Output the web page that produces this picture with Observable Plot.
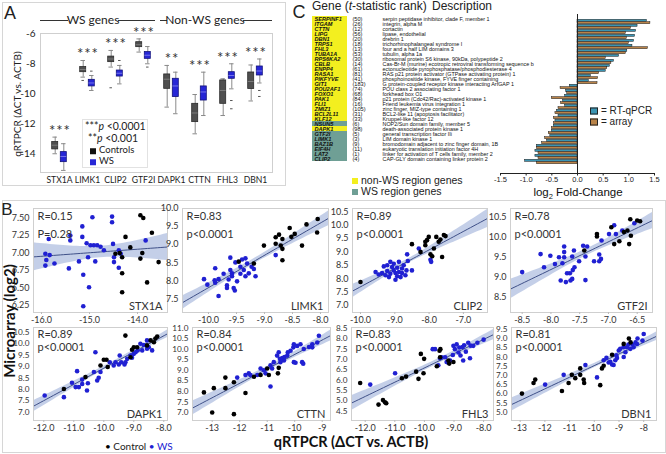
<!DOCTYPE html>
<html><head><meta charset="utf-8">
<script src="https://cdn.jsdelivr.net/npm/d3@7"></script>
<script src="https://cdn.jsdelivr.net/npm/@observablehq/plot@0.6"></script>
<style>
html,body{margin:0;padding:0;background:#fff;}
#fig{position:relative;width:666px;height:454px;overflow:hidden;background:#fff;font-family:Lato,"Open Sans",sans-serif;color:#222;}
#fig svg{position:absolute;}
.t{position:absolute;white-space:nowrap;line-height:1;}
.box{position:absolute;border:1px solid #d6d6d6;}
.sq{display:inline-block;width:6px;height:6px;margin-right:3px;vertical-align:middle;}
</style></head><body><div id="fig"></div>
<script>
// ================= DATA =================
// Panel A: box plot summaries (qRTPCR dCT vs ACTB)
const boxGenes = ["STX1A","LIMK1","CLIP2","GTF2I","DAPK1","CTTN","FHL3","DBN1"];
const ctlLow  = [-14.02, -8.91, -8.24, -7.24, -10.91, -12.69, -11.47, -10.50];
const ctlQ1   = [-13.73, -8.58, -7.91, -6.91,  -9.69, -11.91, -10.69,  -9.70];
const ctlMed  = [-13.45, -8.40, -7.70, -6.75,  -9.05, -11.30,  -9.80,  -9.20];
const ctlQ3   = [-13.24, -8.24, -7.54, -6.58,  -8.73, -10.69,  -9.13,  -8.60];
const ctlHigh = [-12.91, -7.80, -7.13, -6.36,  -8.13, -10.07,  -9.02,  -8.10];
const wsLow   = [-15.13, -9.80, -9.36, -8.02, -11.35, -11.47,  -9.69,  -9.30];
const wsQ1    = [-14.58, -9.53, -8.87, -7.69, -10.24, -10.47,  -9.02,  -8.80];
const wsMed   = [-14.20, -9.30, -8.65, -7.45,  -9.50,  -9.90,  -8.80,  -8.50];
const wsQ3    = [-13.91, -9.09, -8.47, -7.24,  -9.02,  -9.53,  -8.58,  -8.20];
const wsHigh  = [-13.35, -8.80, -8.13, -6.87,  -8.58,  -8.58,  -8.02,  -7.70];
const signif  = ["***","***","***","***","**","***","***","***"];
const ctlOutGene = ["LIMK1","CLIP2"];
const ctlOutVal  = [-9.13, -9.62];
const wsOutGene  = ["LIMK1","CLIP2","GTF2I","FHL3","FHL3","DBN1","DBN1"];
const wsOutVal   = [-8.51, -7.80, -8.24, -10.47, -11.02, -9.80, -10.20];
const yTicksA = [-6, -8, -10, -12, -14];

// Panel B: scatter points [qRTPCR, microarray]
const stx1aCtl = [[-14.25,7.23],[-13.70,7.29],[-13.94,7.54],[-13.88,7.50],[-14.46,6.99],[-14.37,7.00],[-14.32,6.94],[-14.15,7.08],[-14.32,6.71],[-14.32,6.44],[-13.90,7.00],[-13.94,6.92],[-13.80,6.58],[-13.56,6.87]];
const stx1aWs = [[-15.85,7.20],[-15.40,7.25],[-15.40,7.18],[-15.15,7.23],[-15.06,7.14],[-14.98,7.11],[-14.91,7.11],[-14.84,7.11],[-14.77,7.09],[-14.51,7.13],[-13.83,7.18],[-15.92,6.99],[-15.83,6.97],[-15.92,6.82],[-15.90,6.90],[-15.73,6.85],[-15.43,6.78],[-15.22,6.88],[-15.13,6.69],[-15.03,6.94],[-15.01,6.51],[-15.13,6.24],[-14.88,6.88],[-14.70,7.04],[-14.49,6.94],[-14.49,6.87],[-14.39,7.04],[-14.39,6.79],[-14.35,6.99],[-14.94,7.51],[-14.53,7.52],[-14.53,7.44],[-15.15,7.38]];
const limk1Ctl = [[-9.01,8.97],[-8.80,9.20],[-8.74,9.27],[-8.68,9.15],[-8.80,9.02],[-8.71,8.97],[-8.68,8.88],[-8.52,9.21],[-8.46,9.29],[-8.33,8.97],[-8.06,9.33],[-8.68,8.57],[-9.19,8.48],[-9.46,8.53],[-8.55,9.45],[-8.25,9.55],[-8.05,9.70]];
const limk1Ws = [[-10.08,8.05],[-10.02,7.90],[-9.88,7.95],[-9.89,8.02],[-9.82,8.05],[-9.88,8.35],[-9.82,7.59],[-9.67,7.88],[-9.67,7.81],[-9.61,8.64],[-9.61,8.30],[-9.58,8.21],[-9.58,8.13],[-9.55,7.81],[-9.53,7.74],[-9.52,8.51],[-9.43,8.39],[-9.43,8.20],[-9.49,7.99],[-9.40,8.59],[-9.34,8.62],[-9.37,8.30],[-9.34,8.13],[-9.31,8.48],[-9.28,8.21],[-9.23,8.39],[-9.19,8.33],[-9.73,8.20],[-8.80,8.71],[-9.64,8.04],[-9.16,8.13]];
const clip2Ctl = [[-10.00,7.88],[-8.50,9.29],[-8.11,9.38],[-8.11,9.25],[-8.06,9.44],[-8.01,9.56],[-8.25,9.00],[-7.86,9.13],[-7.96,8.91],[-7.79,9.56],[-7.72,9.38],[-7.67,9.46],[-7.57,9.63],[-7.52,9.59],[-7.62,8.81],[-7.91,8.84]];
const clip2Ws = [[-9.56,8.25],[-9.47,8.16],[-9.37,8.21],[-9.32,8.46],[-9.27,8.13],[-9.22,8.29],[-9.17,8.06],[-9.13,8.19],[-9.08,8.44],[-9.03,8.56],[-9.03,8.31],[-8.98,8.21],[-8.93,8.41],[-8.93,8.09],[-8.88,8.63],[-8.88,8.25],[-8.83,8.06],[-8.79,8.38],[-8.79,8.21],[-8.74,8.50],[-8.66,8.31],[-8.64,8.91],[-8.62,8.66],[-8.50,8.31],[-8.69,8.13],[-9.13,8.63],[-9.22,8.50],[-8.98,7.96],[-8.30,9.13],[-7.96,8.71],[-7.94,8.63]];
const gtf2iCtl = [[-7.42,9.67],[-7.20,10.08],[-7.20,10.02],[-6.90,9.83],[-6.81,9.90],[-6.67,10.17],[-6.61,10.04],[-6.64,9.83],[-6.73,10.13],[-6.50,10.42],[-6.62,10.45],[-6.45,10.40],[-6.95,10.25]];
const gtf2iWs = [[-8.50,9.13],[-8.18,9.58],[-8.12,9.25],[-8.01,9.54],[-7.93,9.33],[-7.86,9.50],[-7.80,9.35],[-7.77,9.77],[-7.77,9.63],[-7.77,9.50],[-7.83,8.92],[-7.74,8.88],[-7.72,9.10],[-7.67,9.10],[-7.66,8.92],[-7.63,8.96],[-7.62,9.18],[-7.59,9.25],[-7.60,9.67],[-7.63,9.52],[-7.51,9.40],[-7.44,9.79],[-7.37,9.77],[-7.40,9.52],[-7.40,8.93],[-7.25,9.40],[-7.16,9.40],[-7.16,9.57],[-7.13,9.46],[-7.12,9.92],[-6.99,10.08],[-6.87,10.08],[-6.76,10.17],[-6.90,10.30],[-6.55,10.35]];
const dapk1Ctl = [[-11.33,8.02],[-10.61,8.54],[-10.11,9.05],[-10.00,9.30],[-9.91,9.30],[-9.87,8.98],[-9.06,9.74],[-9.00,9.85],[-9.11,9.41],[-8.89,9.85],[-8.56,9.93],[-8.44,10.15],[-8.33,10.07],[-9.28,10.36],[-8.28,10.23],[-8.22,10.32]];
const dapk1Ws = [[-11.97,7.73],[-11.33,7.66],[-11.06,8.29],[-10.89,8.80],[-10.94,8.10],[-10.83,8.10],[-10.72,8.24],[-10.72,8.43],[-10.56,7.95],[-10.53,8.27],[-10.33,8.76],[-10.28,9.63],[-10.22,8.39],[-10.17,8.51],[-10.11,8.76],[-9.80,9.19],[-9.67,9.05],[-9.61,9.19],[-9.50,9.09],[-9.47,9.49],[-9.42,9.19],[-9.31,9.09],[-9.28,9.19],[-9.22,9.34],[-9.11,9.49],[-9.06,9.39],[-9.00,9.56],[-8.94,9.63],[-8.87,9.71],[-8.78,10.00],[-8.72,9.71],[-8.56,10.15],[-8.39,9.71],[-8.56,9.78],[-8.67,9.95],[-8.50,9.85]];
const cttnCtl = [[-13.30,7.95],[-12.94,8.15],[-13.00,7.00],[-12.52,8.15],[-12.52,8.65],[-12.21,8.43],[-12.21,6.92],[-11.79,7.92],[-11.48,8.69],[-11.24,8.77],[-11.00,9.08],[-10.58,9.11],[-10.61,8.85],[-10.94,8.77]];
const cttnWs = [[-12.09,8.65],[-11.79,8.77],[-11.67,8.85],[-11.61,8.77],[-11.36,8.77],[-11.24,9.08],[-11.12,9.00],[-11.06,8.85],[-10.88,9.23],[-10.82,9.08],[-10.76,9.38],[-10.64,9.69],[-10.58,9.85],[-10.54,9.54],[-10.52,9.38],[-10.45,9.57],[-10.39,9.46],[-10.37,9.62],[-10.27,9.69],[-10.25,9.85],[-10.15,9.92],[-10.05,10.08],[-10.88,8.23],[-10.03,9.38],[-9.97,9.35],[-9.91,10.15],[-9.79,10.23],[-9.67,10.00],[-9.36,10.08],[-9.73,9.38],[-9.69,9.31],[-9.18,10.31],[-9.12,10.63],[-10.03,10.23],[-9.48,10.10],[-9.36,10.23]];
const fhl3Ctl = [[-12.17,5.86],[-11.55,4.81],[-11.40,5.03],[-11.33,4.92],[-11.29,4.88],[-10.76,6.09],[-10.62,6.17],[-10.28,6.41],[-10.20,6.06],[-10.12,7.27],[-10.01,7.03],[-10.03,6.33],[-9.58,6.67],[-9.49,7.42],[-9.47,7.11],[-9.19,6.95],[-9.16,6.80],[-9.02,6.88],[-9.46,7.50]];
const fhl3Ws = [[-11.83,5.78],[-10.99,6.33],[-9.72,7.50],[-9.64,7.50],[-9.53,6.72],[-9.47,7.06],[-9.42,7.11],[-9.30,7.11],[-9.25,6.88],[-9.19,6.84],[-9.13,6.95],[-9.04,7.22],[-9.02,7.66],[-8.97,7.50],[-8.91,7.73],[-8.85,7.34],[-8.82,7.58],[-8.78,7.19],[-8.69,6.95],[-8.66,7.69],[-8.60,7.38],[-8.52,7.81],[-8.46,7.06],[-8.35,7.66],[-8.44,7.67],[-8.21,7.81],[-8.00,7.96],[-8.71,7.60]];
const dbn1Ctl = [[-12.93,6.01],[-12.46,6.59],[-12.39,6.77],[-11.31,6.15],[-11.04,6.59],[-10.91,7.03],[-10.77,6.85],[-10.57,7.38],[-10.57,7.03],[-10.43,6.77],[-10.41,6.59],[-9.76,6.47],[-9.69,7.38],[-9.62,7.52],[-9.28,8.12],[-8.81,8.71],[-8.53,8.79],[-8.60,9.00]];
const dbn1Ws = [[-11.99,6.50],[-11.24,7.03],[-10.36,7.56],[-9.89,6.89],[-9.62,7.82],[-9.51,7.95],[-9.42,7.70],[-9.35,7.74],[-9.28,7.59],[-9.22,7.56],[-9.15,7.82],[-9.11,8.09],[-9.08,7.95],[-9.01,8.35],[-8.95,8.44],[-8.81,8.00],[-8.74,8.26],[-8.68,8.53],[-8.54,8.44],[-8.41,8.53],[-8.27,8.70],[-8.00,9.25],[-8.25,9.00],[-8.05,8.89],[-8.33,8.79],[-8.45,8.68],[-8.62,8.68],[-8.82,8.53]];
const scatterGenes = ["STX1A","LIMK1","CLIP2","GTF2I","DAPK1","CTTN","FHL3","DBN1"];
const scatterCtl = [stx1aCtl, limk1Ctl, clip2Ctl, gtf2iCtl, dapk1Ctl, cttnCtl, fhl3Ctl, dbn1Ctl];
const scatterWs  = [stx1aWs, limk1Ws, clip2Ws, gtf2iWs, dapk1Ws, cttnWs, fhl3Ws, dbn1Ws];
const corrR = ["R=0.15","R=0.83","R=0.89","R=0.78","R=0.89","R=0.84","R=0.83","R=0.81"];
const corrP = ["P=0.28","p<0.0001","p<0.0001","p<0.0001","p<0.0001","p<0.0001","p<0.0001","p<0.0001"];
const xTicksB = [[-16,-15,-14],[-10,-9.5,-9,-8.5,-8],[-10,-9,-8,-7],[-8.5,-8,-7.5,-7,-6.5],[-12,-11,-10,-9,-8],[-13,-12,-11,-10,-9],[-12,-11,-10,-9,-8],[-13,-12,-11,-10,-9,-8]];
const xDecB = [1,1,1,1,1,0,1,0];
const yTicksB = [[6.25,6.5,6.75,7,7.25,7.5],[7.5,8,8.5,9,9.5,10],[7,7.5,8,8.5,9,9.5,10,10.5],[8.5,9,9.5,10,10.5],[7,7.5,8,8.5,9,9.5,10,10.5],[7,7.5,8,8.5,9,9.5,10,10.5,11],[4.5,5,5.5,6,6.5,7,7.5,8,8.5],[5,5.5,6,6.5,7,7.5,8,8.5,9,9.5]];
const yDecB = [2,1,1,1,1,1,1,1];

// Panel C: genes ranked by t-statistic, and log2 fold changes
const cGenes = ["SERPINF1","ITGAM","CTTN","LIPG","DBN1","TRPS1","FHL3","TUBA1A","RPS6KA2","CBLB","ENPP4","RASA1","PIKFYVE","GIT1","POU2AF1","FOXO1","PAK1","FLI1","ZMIZ1","BCL2L11","KLF12","NSUN5","DAPK1","GTF2I","LIMK1","BAZ1B","EIF4H","LAT2","CLIP2"];
const cRanks = [50,26,12,56,20,18,13,53,30,14,61,81,41,183,74,68,84,16,105,31,33,6,98,5,3,9,11,1,4];
const cDesc = ["serpin peptidase inhibitor, clade F, member 1","integrin, alpha M","cortactin","lipase, endothelial","drebrin 1","trichorhinophalangeal syndrome I","four and a half LIM domains 3","tubulin, alpha 1a","ribosomal protein S6 kinase, 90kDa, polypeptide 2","Cas-Br-M (murine) ecotropic retroviral transforming sequence b","ectonucleotide pyrophosphatase/phosphodiesterase 4","RAS p21 protein activator (GTPase activating protein) 1","phosphoinositide kinase, FYVE finger containing","G protein-coupled receptor kinase interacting ArfGAP 1","POU class 2 associating factor 1","forkhead box O1","p21 protein (Cdc42/Rac)-activated kinase 1","Friend leukemia virus integration 1","zinc finger, MIZ-type containing 1","BCL2-like 11 (apoptosis facilitator)","Kruppel-like factor 12","NOP2/Sun domain family, member 5","death-associated protein kinase 1","general transcription factor IIi","LIM domain kinase 1","bromodomain adjacent to zinc finger domain, 1B","eukaryotic translation initiation factor 4H","linker for activation of T cells family, member 2","CAP-GLY domain containing linker protein 2"];
const cRegion = ["non-WS","non-WS","non-WS","non-WS","non-WS","non-WS","non-WS","non-WS","non-WS","non-WS","non-WS","non-WS","non-WS","non-WS","non-WS","non-WS","non-WS","non-WS","non-WS","non-WS","non-WS","WS","non-WS","WS","WS","WS","WS","WS","WS"];
const qpcrFC  = [1.35,1.17,1.14,1.12,1.10,1.07,0.97,0.81,0.71,0.63,0.55,0.26,0.22,-0.15,-0.22,-0.24,-0.28,-0.24,-0.40,-0.37,-0.43,-0.46,-0.50,-0.53,-0.59,-0.79,-0.82,-0.82,-1.02];
const arrayFC = [1.42,1.04,0.94,0.96,1.00,1.37,0.94,0.55,0.66,0.58,0.42,0.40,0.39,-0.33,-0.20,-0.50,-0.32,-0.37,-0.43,-0.46,-0.46,-0.50,-0.56,-0.63,-0.69,-0.79,-0.76,-0.76,-0.79];
const fcTicks = [-1.5,-1.0,-0.5,0,0.5,1.0,1.5];

// ================= HELPERS =================
const fig = document.getElementById("fig");
const fmt = dec => d => (d < 0 ? "-" : "") + Math.abs(d).toFixed(dec);
function put(el, left, top) { el.style.position = "absolute"; el.style.left = left + "px"; el.style.top = top + "px"; fig.appendChild(el); return el; }
function txt(html, x, y, css = "", ax = 0.5, rot = 0) {
  const d = document.createElement("div");
  d.className = "t";
  d.innerHTML = html;
  d.style.cssText += `left:${x}px;top:${y}px;transform:translate(${-ax * 100}%,-50%)${rot ? ` rotate(${rot}deg)` : ""};` + css;
  fig.appendChild(d);
  return d;
}
function box(l, t, w, h, css = "") {
  const d = document.createElement("div");
  d.className = "box";
  d.style.cssText += `left:${l}px;top:${t}px;width:${w}px;height:${h}px;` + css;
  fig.appendChild(d);
}
const baseStyle = {background: "transparent", overflow: "visible"};
const ctlFill = "#4f4f4f", wsFill = "#2626d6";

// panel borders
box(2, 2, 282, 182);
box(2, 200, 662, 251);

// ================= PANEL A =================
const rowsOf = (lo, q1, md, q3, hi) => boxGenes.map((g, i) => ({gene: g, lo: lo[i], q1: q1[i], med: md[i], q3: q3[i], hi: hi[i]}));
const ctlRows = rowsOf(ctlLow, ctlQ1, ctlMed, ctlQ3, ctlHigh);
const wsRows = rowsOf(wsLow, wsQ1, wsMed, wsQ3, wsHigh);
const starRows = boxGenes.map((g, i) => ({gene: g, top: Math.max(ctlHigh[i], wsHigh[i]), sig: signif[i].split("").join("\u200a")}));
const bwA = 28.5, off = 4.3;
const boxIn = (bwA - 6.5) / 2, capIn = (bwA - 5) / 2, outIn = (bwA - 3) / 2;
function boxMarks(rows, dx, fill, stroke, med) {
  return [
    Plot.ruleX(rows, {x: "gene", y1: "lo", y2: "hi", dx, stroke: "#8a8a8a"}),
    Plot.tickY(rows, {x: "gene", y: "lo", dx, insetLeft: capIn, insetRight: capIn, stroke: "#8a8a8a"}),
    Plot.tickY(rows, {x: "gene", y: "hi", dx, insetLeft: capIn, insetRight: capIn, stroke: "#8a8a8a"}),
    Plot.barY(rows, {x: "gene", y1: "q1", y2: "q3", dx, insetLeft: boxIn, insetRight: boxIn, fill, stroke, strokeWidth: 0.8}),
    Plot.tickY(rows, {x: "gene", y: "med", dx, insetLeft: boxIn, insetRight: boxIn, stroke: med, strokeWidth: 0.8})
  ];
}
const ctlOut = ctlOutGene.map((g, i) => ({gene: g, v: ctlOutVal[i]}));
const wsOut = wsOutGene.map((g, i) => ({gene: g, v: wsOutVal[i]}));
const panelA = Plot.plot({
  width: 280, height: 190, marginLeft: 40, marginRight: 8, marginTop: 33, marginBottom: 18,
  style: {...baseStyle, fontFamily: "Lato, sans-serif", fontSize: "10px", color: "#222"},
  x: {type: "band", domain: boxGenes, range: [43, 271], padding: 0, axis: null},
  y: {domain: [-15.27, -6], axis: null},
  marks: [
    Plot.frame({stroke: "#cfcfcf"}),
    ...boxMarks(ctlRows, -off, ctlFill, "#2a2a2a", "#888"),
    ...boxMarks(wsRows, off, wsFill, "#12127a", "#8a8af0"),
    Plot.tickY(ctlOut, {x: "gene", y: "v", dx: -off, insetLeft: outIn, insetRight: outIn, stroke: "#555"}),
    Plot.tickY(wsOut, {x: "gene", y: "v", dx: off, insetLeft: outIn, insetRight: outIn, stroke: "#555"}),
    Plot.text(starRows, {x: "gene", y: "top", text: "sig", dy: -6, fontSize: 15, fill: "#333"}),
    Plot.axisY({ticks: yTicksA, tickFormat: fmt(0), tickSize: 0, tickPadding: 5, fontSize: 10, label: null}),
    Plot.axisX({tickSize: 0, tickPadding: 4, fontSize: 8.6, label: null})
  ]
});
put(panelA, 0, 0);

txt("A", 10, 13, "font:18px 'Liberation Sans',Arial,sans-serif;");
txt("qRTPCR (ΔCT vs. ACTB)", 17, 104, "font-size:10px;color:#222;", 0.5, -90);
// group header
const hl = (x1, x2, y) => box(x1, y, x2 - x1, 0, "border:none;border-top:1px solid #333;");
hl(40, 68, 20); hl(118, 155, 20); hl(160, 167, 20); hl(243, 272, 20);
txt("WS genes", 93, 20, "font-size:12px;");
txt("Non-WS genes", 205, 20, "font-size:12px;");
// legend
box(82, 119, 64, 47, "border-color:#e2e2e2;");
txt("***<i>p</i> &lt;0.0001", 85, 126, "font-size:10.5px;", 0);
txt("**<i>p</i> &lt;0.001", 88, 138, "font-size:10.5px;", 0);
txt(`<span class="sq" style="background:#111"></span>Controls`, 90, 150, "font-size:9.5px;", 0);
txt(`<span class="sq" style="background:${wsFill}"></span>WS`, 90, 161, "font-size:9.5px;", 0);

// ================= PANEL B =================
const layoutB = [
  {frame: [33, 208, 167, 312], xd: [-16.167, -13.375], yd: [6.15, 7.636], row: 0},
  {frame: [182, 208, 328, 312], xd: [-10.464, -7.857], yd: [7.137, 9.986], row: 0},
  {frame: [352, 208, 487, 312], xd: [-10.233, -6.297], yd: [6.74, 10.62], row: 0},
  {frame: [510, 208, 652, 312], xd: [-8.703, -6.234], yd: [8.12, 10.72], row: 0},
  {frame: [33, 327, 167, 420], xd: [-12.343, -7.877], yd: [6.636, 10.715], row: 1},
  {frame: [192, 327, 330, 420], xd: [-13.716, -8.698], yd: [6.62, 11.02], row: 1},
  {frame: [351, 327, 493, 420], xd: [-12.463, -7.666], yd: [4.04, 8.55], row: 1},
  {frame: [511, 327, 656, 420], xd: [-13.352, -7.482], yd: [4.55, 9.6], row: 1}
];
function regress(pts, x0, x1) {
  const n = pts.length;
  const mx = d3.mean(pts, d => d[0]), my = d3.mean(pts, d => d[1]);
  let sxx = 0, sxy = 0;
  for (const [x, y] of pts) { sxx += (x - mx) ** 2; sxy += (x - mx) * (y - my); }
  const b = sxy / sxx, a = my - b * mx;
  let sse = 0;
  for (const [x, y] of pts) sse += (y - a - b * x) ** 2;
  const s = Math.sqrt(sse / (n - 2)), t = 2.0;
  return d3.range(41).map(i => {
    const x = x0 + (x1 - x0) * i / 40, yy = a + b * x;
    const se = s * Math.sqrt(1 / n + (x - mx) ** 2 / sxx);
    return {x, y: yy, lo: yy - t * se, hi: yy + t * se};
  });
}
scatterGenes.forEach((gene, i) => {
  const L = layoutB[i], [fl, ft, fr, fb] = L.frame;
  const ml = 30, mt = 2, mr = 3, mb = 18;
  const ctl = scatterCtl[i].map(([x, y]) => ({x, y}));
  const ws = scatterWs[i].map(([x, y]) => ({x, y}));
  const fit = regress(scatterCtl[i].concat(scatterWs[i]), L.xd[0], L.xd[1]);
  const upper = L.row === 0;
  const yFont = upper ? 9 : 8.2;
  const p = Plot.plot({
    width: fr - fl + ml + mr, height: fb - ft + mt + mb,
    marginLeft: ml, marginTop: mt, marginRight: mr, marginBottom: mb,
    style: {...baseStyle, fontFamily: "Lato, sans-serif", fontSize: "9px", color: "#333"},
    x: {domain: L.xd, axis: null}, y: {domain: L.yd, axis: null},
    marks: [
      Plot.areaY(fit, {x: "x", y1: "lo", y2: "hi", fill: "#b5c3e2", fillOpacity: 0.8, clip: true}),
      Plot.line(fit, {x: "x", y: "y", stroke: "#3f5088", strokeWidth: 1, clip: true}),
      Plot.dot(ws, {x: "x", y: "y", r: 2.3, fill: "#2020d2"}),
      Plot.dot(ctl, {x: "x", y: "y", r: 2.3, fill: "#000"}),
      Plot.frame({stroke: "#cfcfcf"}),
      Plot.axisX({ticks: xTicksB[i], tickFormat: fmt(xDecB[i]), tickSize: 2, tickPadding: 2, fontSize: 9, stroke: "#bbb", label: null}),
      Plot.axisY({ticks: yTicksB[i], tickFormat: fmt(yDecB[i]), tickSize: 0, tickPadding: 4, fontSize: yFont, label: null}),
      Plot.text([corrR[i]], {text: d => d, frameAnchor: "top-left", lineAnchor: "middle", textAnchor: "start", dx: 4, dy: upper ? 8 : 7, fontSize: 11, fill: "#333"}),
      Plot.text([corrP[i]], {text: d => d, frameAnchor: "top-left", lineAnchor: "middle", textAnchor: "start", dx: 4, dy: upper ? 26 : 20, fontSize: 11, fill: "#333"}),
      Plot.text([gene], {text: d => d, frameAnchor: "bottom-right", lineAnchor: "bottom", textAnchor: "end", dx: -5, dy: -3, fontSize: 11, fill: "#333"})
    ]
  });
  put(p, fl - ml, ft - mt);
});
txt("B", 7, 210, "font:17px 'Liberation Sans',Arial,sans-serif;");
txt("Microarray (log2)", 9, 321, "font-size:15px;font-weight:bold;color:#111;", 0.5, -90);
txt("qRTPCR (ΔCT vs. ACTB)", 351, 442, "font-size:14.5px;font-weight:bold;color:#111;");
txt(`<span style="color:#000">•</span> Control <span style="color:#2020d2">• WS</span>`, 105, 446, "font-size:10px;color:#222;", 0);

// ================= PANEL C =================
const tRows = cGenes.map((g, i) => ({gene: g, rank: `(${cRanks[i]})`, desc: cDesc[i], region: cRegion[i], q: qpcrFC[i], a: arrayFC[i]}));
const rowH = 150 / 28;
const tableTop = 13.5 - rowH / 2, tableBot = 163.5 + rowH / 2;
const tablePlot = Plot.plot({
  width: 210, height: 172, marginLeft: 0, marginRight: 0, marginTop: 0, marginBottom: 0,
  style: {...baseStyle, fontFamily: "'Liberation Sans', Arial, sans-serif", fontSize: "5.6px", color: "#111"},
  x: {domain: [0, 1], range: [12, 47], axis: null},
  y: {type: "band", domain: cGenes, range: [tableTop, tableBot], padding: 0, axis: null},
  color: {domain: ["non-WS", "WS"], range: ["#f3ef1f", "#6f9f95"]},
  marks: [
    Plot.barX(tRows, {x1: 0, x2: 1, y: "gene", fill: "region"}),
    Plot.text(tRows, {y: "gene", text: "gene", frameAnchor: "left", textAnchor: "start", dx: 14, fontSize: 5.6, fontStyle: "italic", fontWeight: "bold"}),
    Plot.text(tRows, {y: "gene", text: "rank", frameAnchor: "left", textAnchor: "start", dx: 52, fontSize: 5.6}),
    Plot.text(tRows, {y: "gene", text: "desc", frameAnchor: "left", textAnchor: "start", dx: 82, fontSize: 5.4})
  ]
});
put(tablePlot, 300, 0);
txt("C", 299, 12, "font:18px 'Liberation Sans',Arial,sans-serif;");
txt("Gene (<i>t</i>-statistic rank)", 312, 6, "font:12px 'Liberation Sans',Arial,sans-serif;", 0);
txt("Description", 432, 6, "font:12px 'Liberation Sans',Arial,sans-serif;", 0);
txt(`<span class="sq" style="background:#f3ef1f;width:6px;height:6px"></span>non-WS region genes`, 352, 180, "font:10.5px 'Liberation Sans',Arial,sans-serif;color:#222;", 0);
txt(`<span class="sq" style="background:#6f9f95;width:6px;height:6px"></span>WS region genes`, 352, 191, "font:10.5px 'Liberation Sans',Arial,sans-serif;color:#222;", 0);

const qColor = "#3b94b2", aColor = "#b98348";
const barPlot = Plot.plot({
  width: 172, height: 200, marginLeft: 10, marginRight: 8, marginTop: 0, marginBottom: 27,
  style: {...baseStyle, fontFamily: "'Liberation Sans', Arial, sans-serif", fontSize: "7.5px", color: "#222"},
  x: {domain: [-1.5, 1.5], axis: null},
  y: {type: "band", domain: cGenes, range: [17 - rowH / 2, 167 + rowH / 2], padding: 0, axis: null},
  marks: [
    Plot.barX(tRows, {y: "gene", x: "q", fill: qColor, stroke: "#1b1b1b", strokeWidth: 0.5, insetTop: 0.3, insetBottom: rowH / 2}),
    Plot.barX(tRows, {y: "gene", x: "a", fill: aColor, stroke: "#1b1b1b", strokeWidth: 0.5, insetTop: rowH / 2, insetBottom: 0.3}),
    Plot.ruleX([0], {stroke: "#222", strokeWidth: 1, insetTop: 14}),
    Plot.frame({anchor: "bottom", stroke: "#222"}),
    Plot.axisX({ticks: fcTicks, tickFormat: fmt(1), tickSize: 2.5, tickPadding: 0.5, fontSize: 7.5, label: null})
  ]
});
put(barPlot, 490, 0);
txt("log<sub style='font-size:7.5px;line-height:0'>2</sub> Fold-Change", 578, 192, "font:11.5px 'Liberation Sans',Arial,sans-serif;color:#111;");
txt(`<span class="sq" style="background:${qColor};border:1px solid #222;width:6px;height:5px"></span>= RT-qPCR`, 590, 110, "font:10px 'Liberation Sans',Arial,sans-serif;color:#222;", 0);
txt(`<span class="sq" style="background:${aColor};border:1px solid #222;width:6px;height:5px"></span>= array`, 590, 121, "font:10px 'Liberation Sans',Arial,sans-serif;color:#222;", 0);
</script></body></html>
